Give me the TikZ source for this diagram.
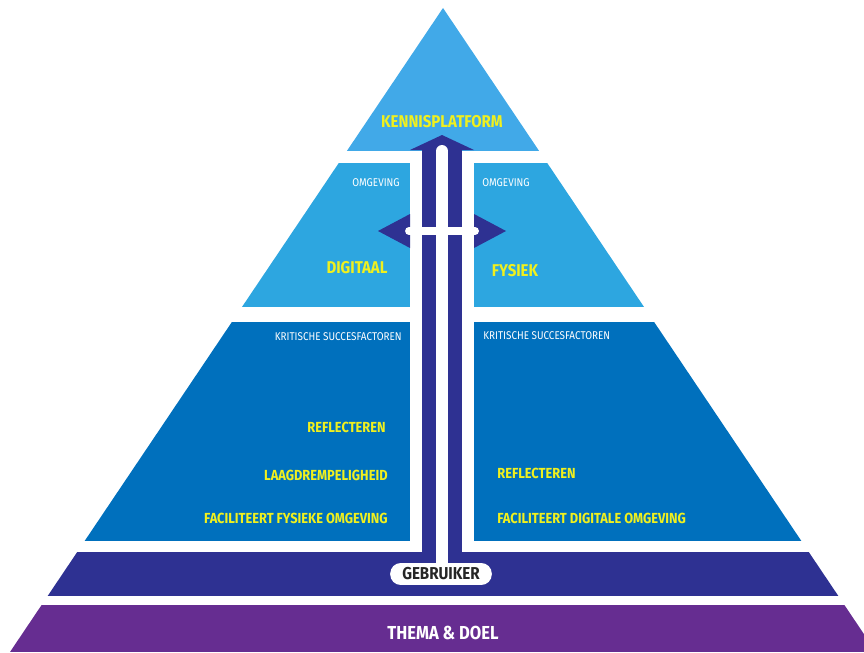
\documentclass[tikz,border=0pt]{standalone}
\usepackage{fontspec}
\newfontfamily\pyrfont{Fira Sans}[FakeStretch=0.88]
\definecolor{toplicht}{RGB}{65,169,232}
\definecolor{midlicht}{RGB}{45,166,224}
\definecolor{kfblauw}{RGB}{0,112,189}
\definecolor{gebrblauw}{RGB}{46,49,146}
\definecolor{themapaars}{RGB}{102,45,145}
\definecolor{kpgeel}{RGB}{240,240,30}
\tikzset{
  label/.style={inner sep=0pt},
  titel/.style={label, text=kpgeel, font=\pyrfont\bfseries\fontsize{9.7}{10}\selectfont},
  factor/.style={label, text=kpgeel, font=\pyrfont\bfseries\fontsize{8.3}{9}\selectfont},
  kop/.style={label, text=white, font=\pyrfont\fontsize{6.4}{7}\selectfont},
}
\begin{document}
\begin{tikzpicture}[x=0.02cm, y=-0.02cm]
			\useasboundingbox (0,0) rectangle (864,652);
			% lagen van de piramide
			\begin{scope}
				\clip (443,8) -- (10,652) -- (876,652) -- cycle;
				\fill[toplicht] (0,0) rectangle (864,151);
				\fill[midlicht] (0,163) rectangle (864,307);
				\fill[kfblauw] (0,322) rectangle (864,541);
				\fill[gebrblauw] (0,552) rectangle (864,596);
				\fill[themapaars] (0,605) rectangle (864,652);
			\end{scope}
			% pijlen door het midden
			\fill[white] (410,151) rectangle (474,552);
			\fill[gebrblauw] (422,150) rectangle (462,553);
			\fill[gebrblauw] (410,150) -- (442,135) -- (474,150) -- cycle;
			\fill[gebrblauw] (410,214) -- (378,231) -- (410,248) -- cycle;
			\fill[gebrblauw] (474,214) -- (506,231) -- (474,248) -- cycle;
			\draw[white, line width=6.8pt, line cap=round] (442,151) -- (442,563);
			\draw[white, line width=4.5pt, line cap=round] (409,231) -- (475,231);

			\node[titel] (kennis) at (442,122) {KENNISPLATFORM};
			\node[kop] (omgL) at (376,183) {OMGEVING};
			\node[kop] (omgR) at (506,183) {OMGEVING};
			\node[titel] (digitaal) at (357,268) {DIGITAAL};
			\node[titel] (fysiek) at (515,271) {FYSIEK};
			\node[kop, anchor=east] (ksfL) at (402,337) {KRITISCHE SUCCESFACTOREN};
			\node[kop, anchor=west] (ksfR) at (483,336) {KRITISCHE SUCCESFACTOREN};
			\node[factor, anchor=east] (reflL) at (386,427) {REFLECTEREN};
			\node[factor, anchor=east] (laag) at (388,475) {LAAGDREMPELIGHEID};
			\node[factor, anchor=east] (facL) at (388,518) {FACILITEERT FYSIEKE OMGEVING};
			\node[factor, anchor=west] (reflR) at (497,473) {REFLECTEREN};
			\node[factor, anchor=west] (facR) at (497,518) {FACILITEERT DIGITALE OMGEVING};
			\node[fill=white, rounded corners=6pt, minimum width=57.8pt, minimum height=12.5pt,
				inner sep=0pt, text=black!85, font=\pyrfont\bfseries\fontsize{9.8}{10}\selectfont]
				(gebruiker) at (441,574) {GEBRUIKER};
			\node[label, text=white, font=\pyrfont\bfseries\fontsize{10.7}{11}\selectfont] (thema) at (443,633) {THEMA \& DOEL};
		\end{tikzpicture}
\end{document}
